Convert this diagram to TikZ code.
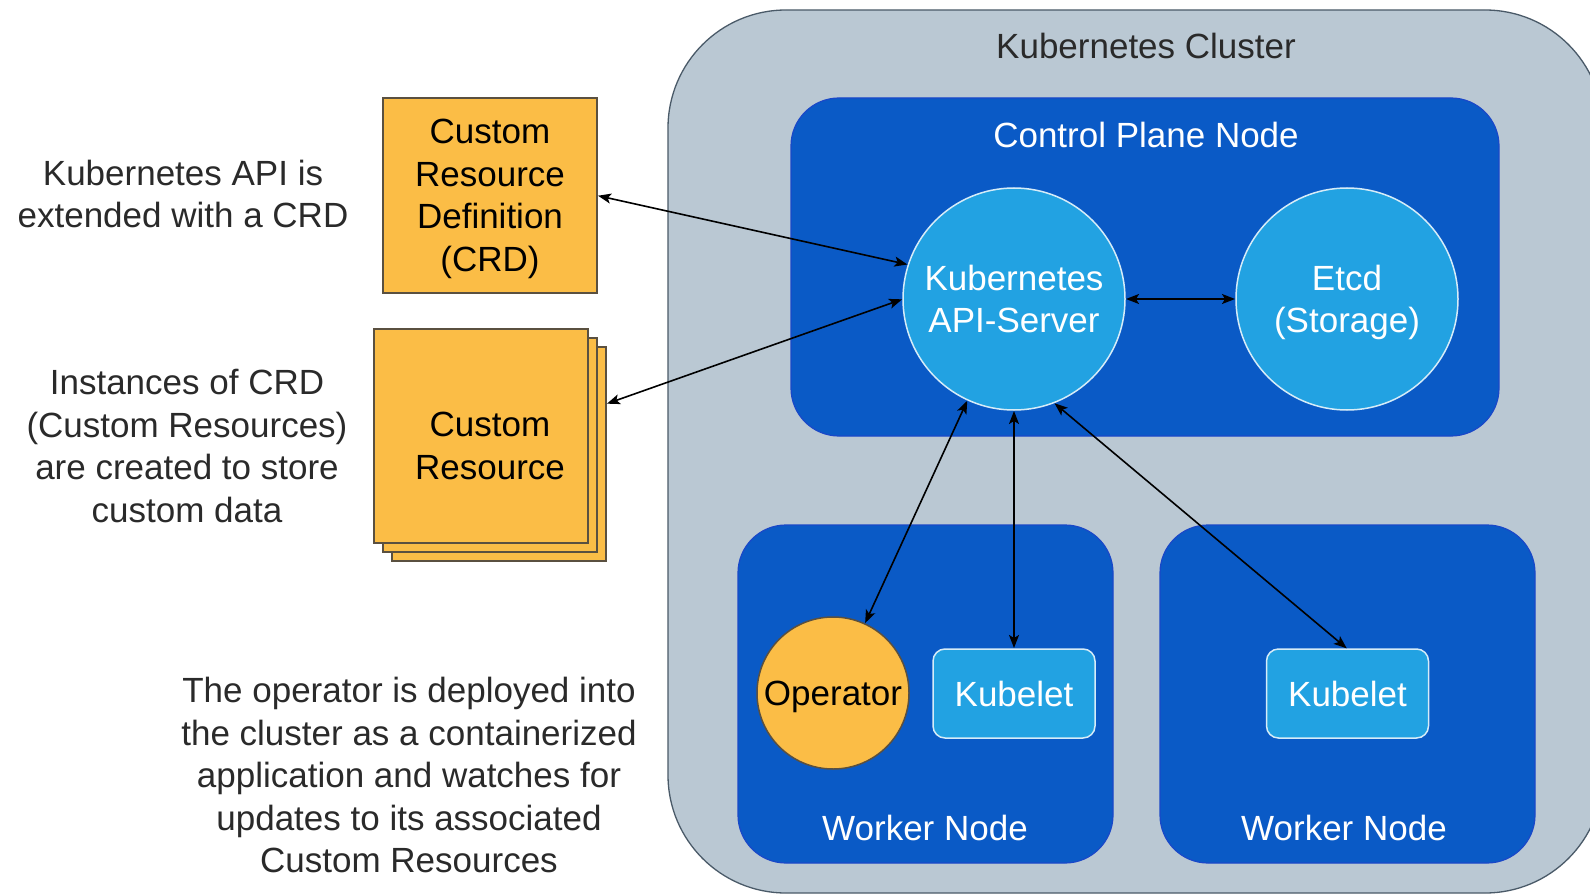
\documentclass[tikz,border=0pt]{standalone}
\usepackage{fontspec}
\setmainfont{Liberation Sans}
\usetikzlibrary{arrows.meta,calc}
\definecolor{clfill}{HTML}{BAC8D3}
\definecolor{cldraw}{HTML}{4A5A68}
\definecolor{kblue}{HTML}{0A5AC6}
\definecolor{kbluedraw}{HTML}{1A48C8}
\definecolor{kcyan}{HTML}{22A2E2}
\definecolor{kcyandraw}{HTML}{D6ECF8}
\definecolor{korange}{HTML}{FBBD46}
\definecolor{korangedraw}{HTML}{5A5040}
\definecolor{ktext}{HTML}{2A2A2A}
\begin{document}
\begin{tikzpicture}[x=1pt,y=-1pt,
  every node/.style={font=\fontsize{35}{42.5}\selectfont, inner sep=0pt, outer sep=0pt},
  clusterbox/.style={fill=clfill, draw=cldraw, line width=1.3pt, rounded corners=118pt},
  container/.style={rectangle, fill=kblue, draw=kbluedraw, line width=1.2pt, rounded corners=48pt},
  title/.style={text=white},
  darktitle/.style={text=ktext},
  svc/.style={circle, fill=kcyan, draw=kcyandraw, line width=1.5pt, minimum size=222pt, text=white, align=center, text depth=0pt},
  kubelet/.style={rectangle, rounded corners=12pt, fill=kcyan, draw=kcyandraw, line width=1.5pt, minimum width=162pt, minimum height=89pt, text=white},
  opcircle/.style={circle, fill=korange, draw=korangedraw, line width=1.5pt, minimum size=152pt, text=black, text depth=0pt},
  crbox/.style={rectangle, fill=korange, draw=korangedraw, line width=1.5pt, minimum width=214pt, minimum height=214pt},
  note/.style={text=ktext, align=center},
  link/.style={line width=1.6pt, black, {Stealth[length=13pt,width=10pt,inset=3pt]}-{Stealth[length=13pt,width=10pt,inset=3pt]}, shorten <=1pt, shorten >=1pt}
]
\useasboundingbox (0,0) rectangle (1590,896);
\fill[white] (0,0) rectangle (1590,896);
\begin{scope}
  \clip (0,0) rectangle (1590,896);
  \draw[clusterbox] (668,10) rectangle (1603,893);
\end{scope}
\node[darktitle] (cltitle) at (1146,46) {Kubernetes Cluster};

% control plane
\node[container, minimum width=708pt, minimum height=338pt] (cp) at (1145,267) {};
\node[title] (cptitle) at (1146,135) {Control Plane Node};
\node[svc] (api) at (1014,299) {Kubernetes\\API-Server};
\node[svc] (etcd) at (1347,299) {Etcd\\(Storage)};

% worker nodes
\node[container, minimum width=375pt, minimum height=338pt] (w1) at (925.5,694) {};
\node[container, minimum width=375pt, minimum height=338pt] (w2) at (1347.5,694) {};
\node[title] (w1title) at (925,828) {Worker Node};
\node[title] (w2title) at (1344,828) {Worker Node};
\node[opcircle] (op) at (833,693) {Operator};
\node[kubelet] (kub1) at (1014,693.5) {Kubelet};
\node[kubelet] (kub2) at (1347.5,693.5) {Kubelet};

% CRD and custom resources
\node[crbox, minimum height=195pt, text=black, align=center, text depth=0pt] (crd) at (490,195.5) {Custom\\Resource\\Definition\\(CRD)};
\node[crbox] (cr3) at (499,454) {};
\node[crbox] (cr2) at (490,445) {};
\node[crbox] (cr1) at (481,436) {};
\node[text=black, align=center] (crtext) at (490,446) {Custom\\Resource};

% notes
\node[note] (n1) at (183,194) {Kubernetes API is\\extended with a CRD};
\node[note] (n2) at (187,446) {Instances of CRD\\(Custom Resources)\\are created to store\\custom data};
\node[note] (n3) at (409,775) {The operator is deployed into\\the cluster as a containerized\\application and watches for\\updates to its associated\\Custom Resources};

% connectors
\draw[link] (crd.east) -- (api.162);
\draw[link] ([yshift=50pt]cr3.east) -- (api.180);
\draw[link] (api) -- (etcd);
\draw[link] (api) -- (op);
\draw[link] (api) -- (kub1);
\draw[link] (api.291) -- (kub2.north);
\end{tikzpicture}
\end{document}
